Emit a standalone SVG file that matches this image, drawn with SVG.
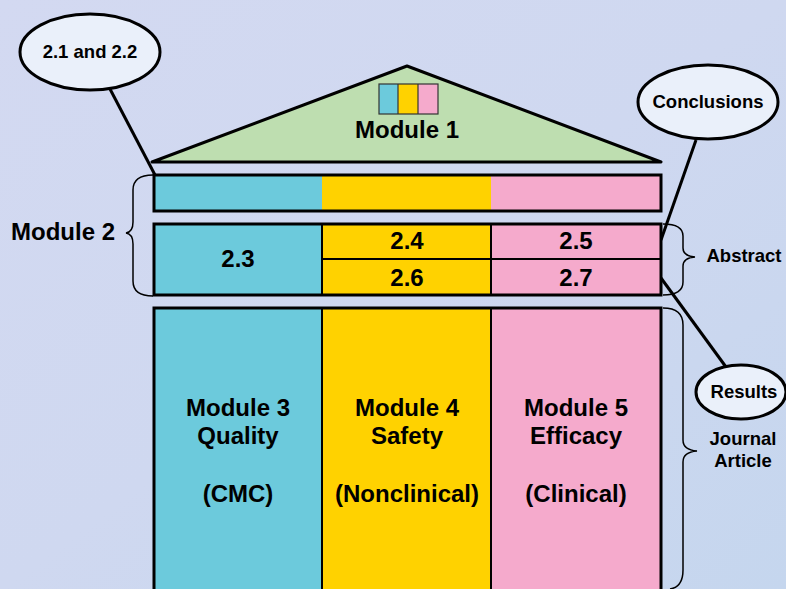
<svg xmlns="http://www.w3.org/2000/svg" width="786" height="589" viewBox="0 0 786 589">
<defs>
<linearGradient id="bg" x1="0" y1="0" x2="1" y2="1">
<stop offset="0" stop-color="#D3D9F1"/>
<stop offset="0.5" stop-color="#CFD8F0"/>
<stop offset="1" stop-color="#C5D6EE"/>
</linearGradient>
<style>
.t{font-family:"Liberation Sans",Arial,sans-serif;font-weight:bold;fill:#000;text-anchor:middle}
.L{font-size:24px}
.S{font-size:18.5px}
.b{stroke:#000;stroke-width:3;fill:none}
.d{stroke:#000;stroke-width:2;fill:none}
.br{stroke:#000;stroke-width:1.5;fill:none}
.cy{fill:#6CCADC}.ye{fill:#FFD200}.pk{fill:#F5AACC}
.el{fill:#EAF0FA;stroke:#000;stroke-width:3}
</style>
</defs>
<rect width="786" height="589" fill="url(#bg)"/>

<g id="connectors">
<line x1="110" y1="89" x2="155" y2="175" stroke="#000" stroke-width="3"/>
<line x1="696" y1="140" x2="661" y2="240" stroke="#000" stroke-width="3"/>
<line x1="661" y1="278" x2="726" y2="367" stroke="#000" stroke-width="3"/>
</g>

<g id="module1">
<polygon points="152,162 407,66 661,162" fill="#BEDEB0" stroke="#000" stroke-width="3" stroke-linejoin="round"/>
<rect class="cy" x="379" y="84" width="19" height="30"/>
<rect class="ye" x="398" y="84" width="20" height="30"/>
<rect class="pk" x="418" y="84" width="20" height="30"/>
<rect x="379" y="84" width="59" height="30" fill="none" stroke="#333" stroke-width="1.2"/>
<line x1="398" y1="84" x2="398" y2="114" stroke="#333" stroke-width="1.2"/>
<line x1="418" y1="84" x2="418" y2="114" stroke="#333" stroke-width="1.2"/>
<text class="t L" x="407" y="138">Module 1</text>
</g>

<g id="module2-top">
<rect class="cy" x="154" y="175" width="168" height="36"/>
<rect class="ye" x="322" y="175" width="169" height="36"/>
<rect class="pk" x="491" y="175" width="170" height="36"/>
<rect class="b" x="154" y="175" width="507" height="36"/>
</g>

<g id="module2-bottom">
<rect class="cy" x="154" y="224" width="168" height="71"/>
<rect class="ye" x="322" y="224" width="169" height="71"/>
<rect class="pk" x="491" y="224" width="170" height="71"/>
<line class="d" x1="322" y1="224" x2="322" y2="295"/>
<line class="d" x1="491" y1="224" x2="491" y2="295"/>
<line class="d" x1="322" y1="259" x2="661" y2="259"/>
<rect class="b" x="154" y="224" width="507" height="71"/>
<text class="t L" x="238" y="267">2.3</text>
<text class="t L" x="407" y="249">2.4</text>
<text class="t L" x="576" y="249">2.5</text>
<text class="t L" x="407" y="286">2.6</text>
<text class="t L" x="576" y="286">2.7</text>
</g>

<g id="module3">
<rect class="cy" x="154" y="308" width="168" height="290"/>
<text class="t L" x="238" y="416">Module 3</text>
<text class="t L" x="238" y="444">Quality</text>
<text class="t L" x="238" y="502">(CMC)</text>
</g>
<g id="module4">
<rect class="ye" x="322" y="308" width="169" height="290"/>
<text class="t L" x="407" y="416">Module 4</text>
<text class="t L" x="407" y="444">Safety</text>
<text class="t L" x="407" y="502">(Nonclinical)</text>
</g>
<g id="module5">
<rect class="pk" x="491" y="308" width="170" height="290"/>
<text class="t L" x="576" y="416">Module 5</text>
<text class="t L" x="576" y="444">Efficacy</text>
<text class="t L" x="576" y="502">(Clinical)</text>
</g>
<g id="bottom-frame">
<line class="d" x1="322" y1="308" x2="322" y2="598"/>
<line class="d" x1="491" y1="308" x2="491" y2="598"/>
<rect class="b" x="154" y="308" width="507" height="295"/>
</g>

<g id="brace-module2">
<path class="br" d="M153,175 Q133,175 133,190 L133,222 Q133,232 126,233 Q133,234 133,244 L133,281 Q133,296 153,296"/>
<text class="t L" x="63" y="240">Module 2</text>
</g>

<g id="brace-abstract">
<path class="br" d="M663,224 Q683,224 683,236 L683,248 Q683,256 695,257 Q683,258 683,266 L683,282 Q683,295 663,295"/>
<text class="t S" x="744" y="262">Abstract</text>
</g>

<g id="brace-journal">
<path class="br" d="M663,308 Q683,308 683,325 L683,440 Q683,450 697,451 Q683,452 683,462 L683,570 Q683,587 670,589"/>
<text class="t S" x="743" y="445">Journal</text>
<text class="t S" x="743" y="467">Article</text>
</g>

<g id="callout-21">
<ellipse class="el" cx="90" cy="52" rx="70" ry="38"/>
<text class="t S" x="90" y="58">2.1 and 2.2</text>
</g>
<g id="callout-conclusions">
<ellipse class="el" cx="708" cy="102" rx="70" ry="37"/>
<text class="t S" x="708" y="108">Conclusions</text>
</g>
<g id="callout-results">
<ellipse class="el" cx="741" cy="392" rx="45" ry="27"/>
<text class="t S" x="744" y="398">Results</text>
</g>
</svg>
